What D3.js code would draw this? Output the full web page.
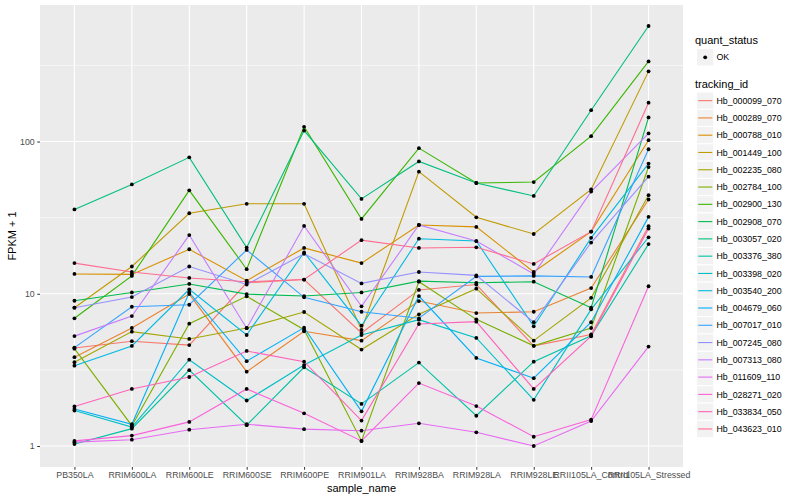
<!DOCTYPE html>
<html>
<head>
<meta charset="utf-8">
<script src="https://cdn.jsdelivr.net/npm/d3@7"></script>
<style>
	body { margin: 0; background: #ffffff; }
	text { font-family: "Liberation Sans", Arial, sans-serif; }
</style>
</head>
<body>
<svg id="svgarea" width="800" height="500"></svg>
<script>
// samples along the x axis
const samples = ['PB350LA', 'RRIM600LA', 'RRIM600LE', 'RRIM600SE', 'RRIM600PE', 'RRIM901LA',
	'RRIM928BA', 'RRIM928LA', 'RRIM928LE', 'RRII105LA_Control', 'RRII105LA_Stressed'];

const trackingIds = ['Hb_000099_070', 'Hb_000289_070', 'Hb_000788_010', 'Hb_001449_100', 'Hb_002235_080',
	'Hb_002784_100', 'Hb_002900_130', 'Hb_002908_070', 'Hb_003057_020', 'Hb_003376_380',
	'Hb_003398_020', 'Hb_003540_200', 'Hb_004679_060', 'Hb_007017_010', 'Hb_007245_080',
	'Hb_007313_080', 'Hb_011609_110', 'Hb_028271_020', 'Hb_033834_050', 'Hb_043623_010'];

// FPKM + 1, one row per tracking id, one value per sample
const fpkm = [
	[4.4, 4.88, 4.6, 11.8, 12.4, 5.53, 10.6, 11.5, 4.55, 5.4, 27.8],
	[3.83, 5.96, 9.95, 3.08, 5.67, 4.92, 8.96, 7.47, 7.62, 10.9, 41.6],
	[13.5, 13.4, 19.6, 12.2, 20.0, 15.9, 28.3, 27.5, 13.9, 25.6, 102],
	[8.1, 15.1, 33.8, 39.0, 39.0, 5.8, 63.4, 31.8, 24.7, 48.5, 289],
	[3.55, 5.64, 5.05, 5.96, 7.59, 4.30, 7.33, 10.8, 4.92, 9.4, 44.4],
	[4.36, 1.36, 6.36, 9.62, 5.81, 1.08, 12.0, 6.79, 4.55, 5.96, 68],
	[6.9, 13.1, 47.8, 14.5, 125, 31, 90.5, 53.4, 54.2, 108.5, 336],
	[9.0, 10.2, 11.6, 9.95, 9.66, 10.2, 12.1, 11.8, 12.0, 8.1, 144],
	[35.8, 52.3, 78.7, 20.1, 118, 42, 74, 53.4, 43.9, 160.6, 574],
	[1.03, 1.30, 3.15, 1.37, 3.29, 1.89, 3.53, 1.58, 3.58, 5.3, 21.2],
	[1.71, 1.33, 3.69, 1.99, 3.4, 5.36, 6.76, 5.13, 2.01, 7.9, 23.5],
	[3.37, 4.54, 10.7, 5.36, 18.7, 6.17, 23.0, 22.2, 6.11, 23.3, 71.6],
	[1.75, 1.39, 10.2, 3.61, 5.99, 1.69, 9.66, 3.79, 2.79, 6.5, 32],
	[4.43, 8.22, 8.47, 19.4, 9.47, 7.62, 6.9, 13.0, 13.1, 12.9, 89],
	[8.1, 9.51, 15.1, 11.5, 18.3, 11.7, 13.9, 13.2, 6.5, 21.7, 58.8],
	[5.27, 7.14, 24.3, 5.94, 27.9, 8.27, 28.3, 22.2, 13.5, 46.9, 113],
	[1.06, 1.10, 1.28, 1.39, 1.29, 1.26, 1.41, 1.23, 1.0, 1.46, 4.5],
	[1.08, 1.17, 1.44, 2.37, 1.64, 1.08, 2.59, 1.83, 1.15, 1.49, 11.2],
	[1.82, 2.37, 2.84, 4.21, 3.58, 1.47, 6.33, 6.56, 2.37, 5.26, 26.8],
	[15.9, 13.9, 12.7, 12.0, 12.4, 22.5, 20.0, 20.2, 15.7, 25.6, 180]
];

const yTicks = [1, 10, 100];
const yMinor = [Math.pow(10, 0.5), Math.pow(10, 1.5), Math.pow(10, 2.5)];

// ggplot default hue palette for 20 levels
const palette = ['#F8766D', '#EA8331', '#D89000', '#C09B00', '#A3A500', '#7CAE00', '#39B600', '#00BB4E',
	'#00BF7D', '#00C1A3', '#00BFC4', '#00BAE0', '#00B0F6', '#35A2FF', '#9590FF', '#C77CFF',
	'#E76BF3', '#FA62DB', '#FF62BC', '#FF6C91'];

const panel = {left: 40, right: 683, top: 5, bottom: 467};
var svg = d3.select('#svgarea');

// scales
var x = d3.scalePoint().domain(samples).range([panel.left, panel.right]).padding(0.6);
var all = fpkm.flat();
var lo = Math.log10(d3.min(all)), hi = Math.log10(d3.max(all));
var pad = (hi - lo) * 0.05;
var y = d3.scaleLog().domain([Math.pow(10, lo - pad), Math.pow(10, hi + pad)]).range([panel.bottom, panel.top]);
var color = d3.scaleOrdinal().domain(trackingIds).range(palette);

// panel background and grid
svg.append('rect').attr('x', panel.left).attr('y', panel.top)
	.attr('width', panel.right - panel.left).attr('height', panel.bottom - panel.top)
	.attr('fill', '#EBEBEB');
var grid = svg.append('g');
grid.selectAll('.minor').data(yMinor).enter().append('line')
	.attr('x1', panel.left).attr('x2', panel.right)
	.attr('y1', d => y(d)).attr('y2', d => y(d))
	.attr('stroke', '#ffffff').attr('stroke-width', 0.55);
grid.selectAll('.major').data(yTicks).enter().append('line')
	.attr('x1', panel.left).attr('x2', panel.right)
	.attr('y1', d => y(d)).attr('y2', d => y(d))
	.attr('stroke', '#ffffff').attr('stroke-width', 1.1);
grid.selectAll('.vmajor').data(samples).enter().append('line')
	.attr('x1', d => x(d)).attr('x2', d => x(d))
	.attr('y1', panel.top).attr('y2', panel.bottom)
	.attr('stroke', '#ffffff').attr('stroke-width', 1.1);

// axes
var xAxis = svg.append('g').attr('transform', 'translate(0,' + panel.bottom + ')')
	.call(d3.axisBottom(x).tickSize(2.75).tickPadding(2.5));
var yAxis = svg.append('g').attr('transform', 'translate(' + panel.left + ',0)')
	.call(d3.axisLeft(y).tickValues(yTicks).tickFormat(d3.format('d')).tickSize(2.75).tickPadding(2.5));
[xAxis, yAxis].forEach(function(a){
	a.select('.domain').remove();
	a.selectAll('line').attr('stroke', '#333333').attr('stroke-width', 1);
	a.selectAll('text').attr('fill', '#4D4D4D').style('font-size', '8.8px')
		.style('font-family', '"Liberation Sans", Arial, sans-serif');
});

svg.append('text').attr('x', (panel.left + panel.right) / 2).attr('y', 492)
	.attr('text-anchor', 'middle').style('font-size', '11px').text('sample_name');
svg.append('text').attr('transform', 'translate(16,' + ((panel.top + panel.bottom) / 2) + ') rotate(-90)')
	.attr('text-anchor', 'middle').style('font-size', '11px').text('FPKM + 1');

// lines, then points on top
var line = d3.line().x((d, i) => x(samples[i])).y(d => y(d));
svg.append('g').selectAll('path').data(fpkm).enter().append('path')
	.attr('d', d => line(d))
	.attr('fill', 'none')
	.attr('stroke', (d, i) => color(trackingIds[i]))
	.attr('stroke-width', 1.1);
var pts = svg.append('g');
fpkm.forEach(function(row){
	pts.selectAll(null).data(row).enter().append('circle')
		.attr('cx', (d, i) => x(samples[i]))
		.attr('cy', d => y(d))
		.attr('r', 1.9)
		.attr('fill', '#000000');
});

// legend
var lg = svg.append('g').attr('transform', 'translate(695,0)');
lg.append('text').attr('x', 0).attr('y', 44).style('font-size', '11px').text('quant_status');
lg.append('rect').attr('x', 1.5).attr('y', 48.6).attr('width', 17.3).attr('height', 17.3)
	.attr('fill', '#F2F2F2').attr('stroke', '#ffffff');
lg.append('circle').attr('cx', 10.2).attr('cy', 57.3).attr('r', 1.9).attr('fill', '#000000');
lg.append('text').attr('x', 21.5).attr('y', 60.4).style('font-size', '8.8px').text('OK');

lg.append('text').attr('x', 0).attr('y', 88).style('font-size', '11px').text('tracking_id');
var item = lg.selectAll('.item').data(trackingIds).enter().append('g')
	.attr('transform', (d, i) => 'translate(0,' + (92 + i * 17.28) + ')');
item.append('rect').attr('x', 1.5).attr('y', 0).attr('width', 17.3).attr('height', 17.3)
	.attr('fill', '#F2F2F2').attr('stroke', '#ffffff');
item.append('line').attr('x1', 3.2).attr('x2', 17.3).attr('y1', 8.64).attr('y2', 8.64)
	.attr('stroke', d => color(d)).attr('stroke-width', 1.1);
item.append('text').attr('x', 21.5).attr('y', 11.8).style('font-size', '8.8px').text(d => d);
</script>
</body>
</html>
